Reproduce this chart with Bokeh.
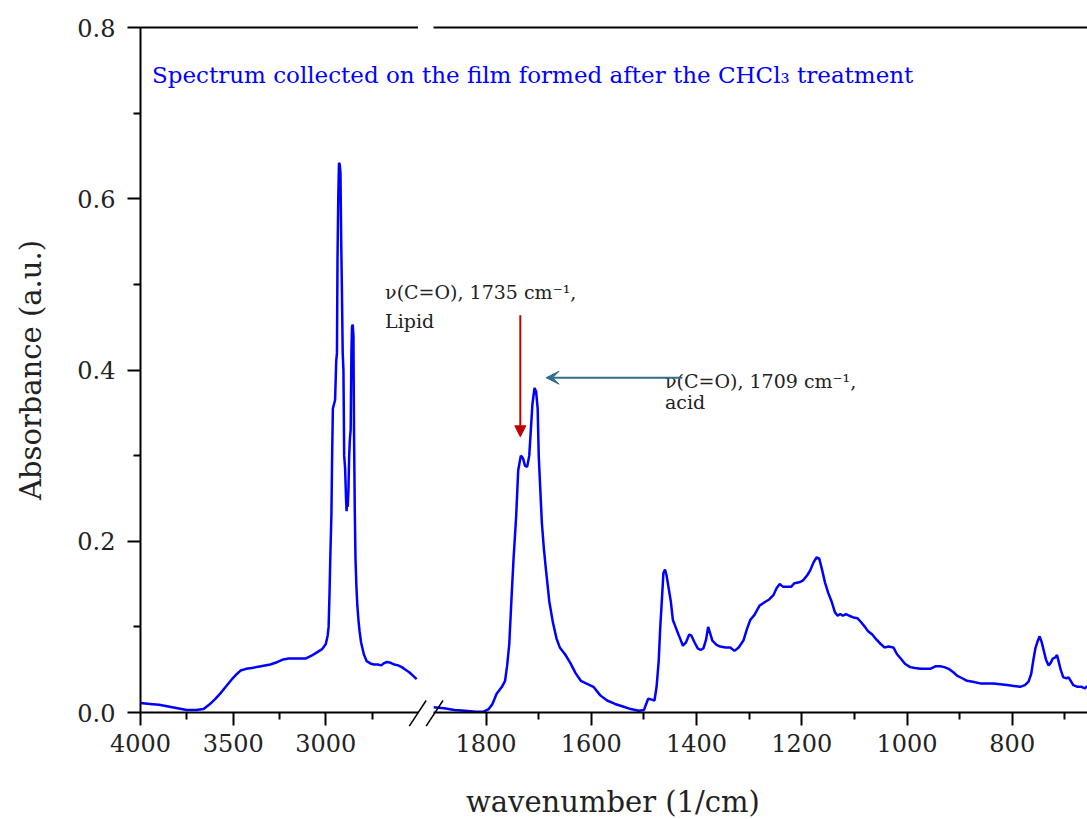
from bokeh.plotting import figure
from bokeh.layouts import row, column
from bokeh.models import (Range1d, LinearAxis, FixedTicker, Label, Arrow,
                          NormalHead, VeeHead, NumeralTickFormatter)
from bokeh.embed import file_html
from bokeh.resources import INLINE

# ---------------- data ----------------
wn_high = [4000, 3950, 3900, 3850, 3800, 3750, 3700, 3660, 3630, 3600, 3570,
           3540, 3510, 3480, 3460, 3430, 3400, 3350, 3300, 3260, 3230, 3200,
           3150, 3110, 3080, 3050, 3020, 3000, 2990, 2985, 2980, 2976, 2970,
           2966, 2962, 2950, 2944, 2940, 2937, 2933, 2929, 2925, 2921, 2917,
           2913, 2909, 2905, 2901, 2896, 2891, 2888, 2885, 2882, 2878, 2874,
           2870, 2866, 2862, 2859, 2855, 2851, 2848, 2844, 2840, 2835, 2830,
           2824, 2818, 2810, 2795, 2780, 2757, 2740, 2720, 2700, 2690, 2670,
           2650, 2630, 2610, 2590, 2570, 2550, 2530, 2510]
abs_high = [0.011, 0.010, 0.009, 0.007, 0.005, 0.003, 0.003, 0.004, 0.009,
            0.015, 0.022, 0.030, 0.038, 0.045, 0.049, 0.051, 0.052, 0.054,
            0.056, 0.059, 0.062, 0.063, 0.063, 0.063, 0.066, 0.070, 0.074,
            0.080, 0.090, 0.100, 0.140, 0.180, 0.230, 0.300, 0.355, 0.365,
            0.410, 0.420, 0.530, 0.600, 0.642, 0.640, 0.630, 0.550, 0.490,
            0.420, 0.400, 0.300, 0.285, 0.250, 0.235, 0.250, 0.240, 0.260,
            0.300, 0.320, 0.330, 0.420, 0.450, 0.453, 0.440, 0.330, 0.240,
            0.180, 0.147, 0.125, 0.108, 0.095, 0.082, 0.068, 0.060, 0.057,
            0.056, 0.056, 0.055, 0.057, 0.059, 0.058, 0.056, 0.055, 0.053,
            0.050, 0.047, 0.043, 0.039]

wn_low = [1900, 1880, 1860, 1840, 1820, 1805, 1795, 1788, 1780, 1770, 1764,
          1760, 1756, 1752, 1748, 1743, 1739, 1734, 1730, 1726, 1722, 1718,
          1715, 1712, 1708, 1705, 1702, 1700, 1697, 1694, 1690, 1686, 1680,
          1673, 1666, 1660, 1650, 1640, 1630, 1620, 1610, 1596, 1583, 1570,
          1555, 1540, 1525, 1510, 1500, 1492, 1485, 1480, 1476, 1472, 1469,
          1466, 1463, 1460, 1457, 1453, 1449, 1445, 1440, 1435, 1431, 1426,
          1420, 1414, 1410, 1404, 1398, 1392, 1387, 1382, 1378, 1374, 1370,
          1362, 1355, 1345, 1336, 1328, 1320, 1311, 1304, 1298, 1290, 1280,
          1270, 1262, 1254, 1248, 1242, 1236, 1228, 1220, 1214, 1205, 1198,
          1190, 1184, 1178, 1172, 1167, 1162, 1156, 1150, 1143, 1137, 1132,
          1127, 1122, 1116, 1110, 1102, 1094, 1088, 1080, 1074, 1066, 1058,
          1050, 1043, 1035, 1026, 1019, 1012, 1004, 994, 985, 975, 965, 956,
          946, 937, 929, 921, 912, 905, 895, 886, 875, 861, 849, 836, 823,
          810, 797, 785, 776, 769, 764, 760, 756, 752, 748, 744, 740, 736,
          731, 727, 723, 719, 715, 712, 708, 703, 697, 693, 688, 684, 676,
          668, 662, 658]
abs_low = [0.006, 0.005, 0.003, 0.002, 0.001, 0.001, 0.004, 0.010, 0.022,
           0.030, 0.037, 0.055, 0.080, 0.130, 0.178, 0.228, 0.283, 0.300,
           0.297, 0.288, 0.287, 0.300, 0.330, 0.360, 0.379, 0.375, 0.355,
           0.300, 0.260, 0.221, 0.190, 0.165, 0.130, 0.105, 0.086, 0.076,
           0.068, 0.058, 0.046, 0.037, 0.034, 0.030, 0.020, 0.014, 0.010,
           0.007, 0.004, 0.002, 0.003, 0.016, 0.015, 0.014, 0.030, 0.060,
           0.100, 0.131, 0.163, 0.167, 0.160, 0.145, 0.130, 0.108, 0.100,
           0.092, 0.086, 0.078, 0.082, 0.091, 0.090, 0.082, 0.075, 0.073,
           0.075, 0.085, 0.100, 0.092, 0.084, 0.079, 0.077, 0.076, 0.076,
           0.072, 0.076, 0.084, 0.098, 0.108, 0.114, 0.125, 0.129, 0.132,
           0.137, 0.145, 0.150, 0.147, 0.147, 0.147, 0.151, 0.152, 0.154,
           0.160, 0.166, 0.175, 0.181, 0.180, 0.168, 0.152, 0.140, 0.129,
           0.117, 0.113, 0.115, 0.113, 0.115, 0.113, 0.111, 0.110, 0.106,
           0.100, 0.095, 0.091, 0.085, 0.080, 0.076, 0.077, 0.076, 0.068,
           0.063, 0.057, 0.053, 0.052, 0.051, 0.051, 0.051, 0.054, 0.054,
           0.053, 0.051, 0.047, 0.043, 0.040, 0.037, 0.036, 0.034, 0.034,
           0.034, 0.033, 0.032, 0.031, 0.030, 0.032, 0.036, 0.045, 0.061,
           0.075, 0.083, 0.089, 0.082, 0.072, 0.062, 0.055, 0.058, 0.063,
           0.064, 0.067, 0.060, 0.050, 0.041, 0.040, 0.041, 0.036, 0.032,
           0.030, 0.030, 0.028, 0.031]

y_ticks = [0.0, 0.2, 0.4, 0.6, 0.8]
y_minor = [0.1, 0.3, 0.5, 0.7]
x_ticks_high = [4000, 3500, 3000]
x_minor_high = [3750, 3250, 2750]
x_ticks_low = [1800, 1600, 1400, 1200, 1000, 800]
x_minor_low = [1700, 1500, 1300, 1100, 900, 700]

title_text = "Spectrum collected on the film formed after the CHCl\u2083 treatment"
lipid_text = ["\u03bd(C=O), 1735 cm\u207b\u00b9,", "Lipid"]
acid_text = ["\u03bd(C=O), 1709 cm\u207b\u00b9,", "acid"]
x_label = "wavenumber (1/cm)"
y_label = "Absorbance (a.u.)"

# ---------------- layout / style ----------------
W, H = 1087, 819
TOP, BOTTOM = 27, 107
LEFT_W = 418          # right edge of the high-wavenumber panel
RIGHT_L = 433         # left edge of the fingerprint panel
X_LOW = (1900, 657)   # fingerprint panel range
Y_RANGE = (0, 0.8)
FONT = "DejaVu Serif"
BLUE = "#0000ff"
RED = "#c00000"
TEAL = "#2f6f8f"
INK = "#222222"


def style_axis(ax):
    ax.axis_line_width = 2
    ax.axis_line_color = "black"
    ax.major_tick_line_width = 2
    ax.minor_tick_line_width = 2
    ax.major_tick_in = 0
    ax.major_tick_out = 13
    ax.minor_tick_in = 0
    ax.minor_tick_out = 7
    ax.major_label_text_font = FONT
    ax.major_label_text_font_size = "24px"
    ax.major_label_text_color = INK
    ax.axis_label_text_font = FONT
    ax.axis_label_text_font_style = "normal"
    ax.axis_label_text_font_size = "29px"
    ax.axis_label_text_color = INK


def top_line(p):
    ax = LinearAxis(ticker=FixedTicker(ticks=[]), axis_line_width=2,
                    major_tick_line_color=None, minor_tick_line_color=None,
                    major_label_text_font_size="0px")
    p.add_layout(ax, "above")


# --- left (high wavenumber) panel ---
p1 = figure(width=LEFT_W, height=H, x_range=Range1d(4000, 2500),
            y_range=Range1d(*Y_RANGE), output_backend="svg",
            toolbar_location=None, min_border_left=140,
            min_border_right=0, min_border_top=TOP,
            min_border_bottom=BOTTOM, outline_line_color=None)
p1.grid.grid_line_color = None
p1.xaxis.ticker = FixedTicker(ticks=x_ticks_high, minor_ticks=x_minor_high)
p1.yaxis.ticker = FixedTicker(ticks=y_ticks, minor_ticks=y_minor)
p1.yaxis.formatter = NumeralTickFormatter(format="0.0")
p1.yaxis.axis_label = y_label
style_axis(p1.xaxis[0])
style_axis(p1.yaxis[0])
p1.xaxis.major_label_standoff = 8
p1.yaxis.major_label_standoff = 12
p1.yaxis.axis_label_standoff = 26
top_line(p1)
p1.line(wn_high, abs_high, line_color=BLUE, line_width=2.5)

# --- right (fingerprint) panel: transparent canvas laid over p1 ---
p2 = figure(width=W, height=H, x_range=Range1d(*X_LOW),
            y_range=Range1d(*Y_RANGE), output_backend="svg",
            toolbar_location=None, min_border_left=RIGHT_L, min_border_right=0,
            min_border_top=TOP, min_border_bottom=BOTTOM,
            y_axis_location=None, outline_line_color=None,
            background_fill_alpha=0, border_fill_alpha=0,
            margin=(0, 0, 0, -LEFT_W))
p2.grid.grid_line_color = None
p2.xaxis.ticker = FixedTicker(ticks=x_ticks_low, minor_ticks=x_minor_low)
style_axis(p2.xaxis[0])
p2.xaxis.major_label_standoff = 8
top_line(p2)
p2.line(wn_low, abs_low, line_color=BLUE, line_width=2.5)

# --- annotation layer: whole-canvas frame sharing p2's scales ---
sx = (W - RIGHT_L) / (X_LOW[0] - X_LOW[1])          # px per wavenumber
sy = (H - TOP - BOTTOM) / (Y_RANGE[1] - Y_RANGE[0])  # px per absorbance
p3 = figure(width=W, height=H,
            x_range=Range1d(X_LOW[0] + RIGHT_L / sx, X_LOW[1]),
            y_range=Range1d(Y_RANGE[0] - BOTTOM / sy, Y_RANGE[1] + TOP / sy),
            output_backend="svg", toolbar_location=None,
            min_border=0, x_axis_location=None, y_axis_location=None,
            outline_line_color=None, background_fill_alpha=0,
            border_fill_alpha=0, margin=(-H, 0, 0, 0))
p3.grid.grid_line_color = None

# axis break marks
p3.segment(x0=[1946, 1914], y0=[-0.016, -0.016], x1=[1914, 1882],
           y1=[0.014, 0.014], line_color="black", line_width=1.5)

p3.add_layout(Label(x=2435, y=0.745, text=title_text, text_font=FONT,
                    text_font_size="23px", text_color=BLUE,
                    text_baseline="alphabetic"))
p3.add_layout(Label(x=1992, y=0.491, text=lipid_text[0], text_font=FONT,
                    text_font_size="19px", text_color=INK,
                    text_baseline="alphabetic"))
p3.add_layout(Label(x=1992, y=0.457, text=lipid_text[1], text_font=FONT,
                    text_font_size="19px", text_color=INK,
                    text_baseline="alphabetic"))
p3.add_layout(Label(x=1460, y=0.387, text=acid_text[0], text_font=FONT,
                    text_font_size="19px", text_color=INK,
                    text_baseline="alphabetic"))
p3.add_layout(Label(x=1460, y=0.363, text=acid_text[1], text_font=FONT,
                    text_font_size="19px", text_color=INK,
                    text_baseline="alphabetic"))
p3.add_layout(Arrow(x_start=1735, y_start=0.464, x_end=1735, y_end=0.322,
                    line_color=RED, line_width=2,
                    end=NormalHead(size=11, fill_color=RED, line_color=RED)))
p3.add_layout(Arrow(x_start=1427, y_start=0.391, x_end=1686, y_end=0.391,
                    line_color=TEAL, line_width=2,
                    end=VeeHead(size=13, fill_color=TEAL, line_color=TEAL)))
p3.add_layout(Label(x=1559, y=-0.104, text=x_label, text_font=FONT,
                    text_font_size="29px", text_color=INK,
                    text_align="center", text_baseline="alphabetic"))

layout = column(row(p1, p2), p3)
open("out.html", "w").write(file_html(layout, INLINE))
